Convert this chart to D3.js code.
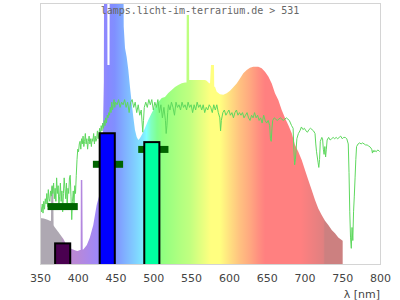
<!DOCTYPE html>
<html><head><meta charset="utf-8">
<script src="https://cdn.jsdelivr.net/npm/d3@7"></script>
<style>html,body{margin:0;padding:0;background:#fff;}svg{display:block;}</style>
</head><body>
<svg id="c" width="400" height="300"></svg>
<script>
const title = "lamps.licht-im-terrarium.de > 531";
const xTicks = [350,400,450,500,550,600,650,700,750,800];
const xLabel = "λ [nm]";

// lamp spectrum (relative, clipped at top)
const specNm = [350,355,360,363,364.5,365,367.5,368,369,374,381,385,392,398,400,402,403.8,404,406,406.5,407.3,412,416,420.5,425,428,430,433,434.5,435,438.7,439.3,442,442.6,459.9,460.8,462.5,464.7,466.9,469.1,471.4,473.5,475.7,478,480.1,482.4,484.6,486.7,489,493.3,497.8,502.2,506.6,511.1,515.4,519.8,524.3,528.7,533,537.5,541.9,543.9,544.2,547.2,547.5,548.5,555,561.8,568.4,570.6,572.8,575,576.3,580.3,580.6,581.6,583.9,588.2,592.6,597.1,601.5,605.8,610.3,614.7,619.1,623.6,627.9,632.3,638.9,643.4,647.8,652.2,656.7,661,665.4,669.9,674.3,678.6,683.1,687.5,691.9,696.4,700.7,705.1,709.6,714,718.3,722.8,727.2,731.6,736.1,740.4,744.8,750.6];
const specVal = [17.6,17.4,17.0,16.6,16.5,29.6,29.6,14.8,14.3,12.4,9.6,7.3,5.7,5.1,5.0,5.3,5.4,32.2,32.2,5.6,5.6,7.3,10.2,14.9,22.6,25.8,33,46,70,140,140,76.2,76.2,140,140,91,82.8,79.3,74.3,67.8,61.7,56.3,51.3,48.7,47.5,48.3,49.4,50.6,52.1,55.2,57.9,60.2,62.1,63.6,64.0,65.5,66.7,67.8,68.6,69.3,69.5,69.5,95.4,95.4,70.5,70.5,70.5,70.5,70.5,70.2,69.5,69.2,76.2,76.2,67.9,67.9,66.0,65.0,64.8,65.4,66.4,67.7,69.2,71.1,73.1,74.3,75.2,75.6,75.6,75.0,73.7,71.8,69.2,65.4,62.8,59.0,55.9,53.3,50.2,45.6,43.0,39.8,36.0,32.2,28.4,24.5,21.3,18.8,16.6,14.9,13.0,11.8,10.2,8.9];

// reference (sunlight) spectrum
const sunNm = [351,352,353,354,355,356,357,358,359,360,361,362,363,364,365,366,367,368,369,370,371,372,373,374,375,376,377,378,379,380,381,382,383,384,385,386,387,388,389,390,391,392,393,394,395,396,397,398,399,400,401,402,403,404,405,406,407,408,409,410,411,412,413,414,415,416,417,418,419,420,421,422,423,424,425,426,427,428,429,430,431,432,433,434,435,436,437,438,439,440,441,442,443,444,445,446,447,448,449,450,452,454,456,458,460,462,464,466,468,470,472,474,476,478,480,482,484,486,487,488,490,492,494,496,498,500,502,504,506,508,510,512,514,516,517,518,519,520,522,524,526,528,530,532,534,536,538,540,542,544,546,548,550,552,554,556,558,560,562,564,566,568,570,572,574,576,578,580,582,584,586,588,589,590,592,594,596,598,600,602,604,606,608,610,612,614,616,618,620,622,624,626,628,630,632,634,636,638,640,642,644,646,648,650,652,654,655,656,657,658,660,664,668,672,676,680,683,685,686,687,688,689,690,692,694,696,698,700,702,704,706,708,710,712,714,715,716,718,719,720,721,723,724,725,726,727,728,729,730,732,734,736,738,740,742,744,746,748,750,752,754,756,758,759,760,761,762,763,764,765,766,767,768,769,771,773,775,777,779,781,783,785,787,789,790,791,792,793,795,797,799,800];
const sunVal = [22,20,23,19.5,24,21,25,23,27,22,28.5,25,24,28,26,30,27,31,25,29,24,33,27,30,22,26,31,24,28,20,27,33,29,25,31,22,29,27,33,34,26,17,24,28,23,30,27,34,40,44,43,46,47,44,48,46,49,45,47,50,46,48,44,47,49,46,48,45,48,47,50,46,49,47,48,51,48,50,52,50,53,51,54,52,55,53,56,54,57,56,58,57,60,58,62,59,61,63,60,62,61,63,60,62,61,63,60,62,58,62,63,60,62,58,61,57,59,50.5,55,60,62,60,63,61,63,59,62,60,63,58,61,56,60,55,50,53,58,61,59,62,60,57,62,60,61,59,62,60,61,59,62,60,61,58,61,59,62,60,61,59,61,58,60,59,61,60,58,61,59,61,58,56,51,55,58,59,57,58,59,57,58,56,58,59,57,58,57,58,56,57,58,56,55,57,56,58,56,57,55,56,54,57,55,54,55,53,48,47,52,55,56,55,56,55,56,55,53,52,44,38,40,44,48,50,51,52.5,51.5,52,51,50.5,51.5,52,51.5,51,50,46,43,39,37,40,47,48.5,48,44,42,45,41,44,47.5,48.5,47.5,48,48.5,48,48.5,48,48.5,49,48,48.5,48.5,48,46,35,20,10,6,14,9,20,26,33,40,45,46,46.4,46,46.4,46,45.6,45.6,45.2,44.8,44,42.5,43.5,42.9,43.5,43,43.7,43.3,43];

// filter bars
const barLo = [370,429,488];
const barHi = [390,449,508];
const barVal = [7.9,50.1,46.7];
const barColors = ["#4a0050","#0000ff","#00ffa0"];

// marker levels
const markLo = [360,420,480];
const markHi = [400,460,520];
const markVal = [22.0,38.2,43.9];

// spectrum colour stops (nm, colour)
const gradNm = [350,377,383,400,425,440,449,462,476,486,491,497,505,512,535,548,562,576,588,601,615,628,639,648,695,725,727,800];
const gradCol = ["#aea8b2","#aea8b2","#c088d0","#b888d8","#a088f8","#8888ff","#8090ff","#80b0ff","#80d0ff","#80e8ff","#80ffff","#80ffc0","#80ff90","#90ff80","#b0ff80","#c0ff80","#e0ff80","#ffff80","#ffff80","#ffe080","#ffc080","#ffa880","#ff9080","#ff8080","#ff8080","#e08080","#cc8080","#cc8080"];

const svg = d3.select("#c");
const L = 40, R = 380, T = 3, B = 264;
const x = d3.scaleLinear().domain([350,800]).range([L,R]);
const y = d3.scaleLinear().domain([0,100]).range([B,T]);

const defs = svg.append("defs");
defs.append("clipPath").attr("id","clip").append("rect")
  .attr("x",L).attr("y",T).attr("width",R-L).attr("height",B-T);
const grad = defs.append("linearGradient").attr("id","spec")
  .attr("gradientUnits","userSpaceOnUse")
  .attr("x1",x(350)).attr("x2",x(800)).attr("y1",0).attr("y2",0);
gradNm.forEach((n,i)=>grad.append("stop")
  .attr("offset",(n-350)/450).attr("stop-color",gradCol[i]));

const g = svg.append("g").attr("clip-path","url(#clip)");

const spec = specNm.map((n,i)=>[n,specVal[i]]);
g.append("path").datum(spec)
  .attr("fill","url(#spec)")
  .attr("d",d3.area().x(d=>x(d[0])).y0(y(0)).y1(d=>y(d[1])));

const sun = sunNm.map((n,i)=>[n,sunVal[i]]);
g.append("path").datum(sun)
  .attr("fill","none").attr("stroke","#5ed85e").attr("stroke-width",1)
  .attr("d",d3.line().x(d=>x(d[0])).y(d=>y(d[1])));

g.selectAll("rect.mark").data(markLo).enter().append("rect")
  .attr("class","mark")
  .attr("x",(d)=>x(d)).attr("width",(d,i)=>x(markHi[i])-x(d))
  .attr("y",(d,i)=>y(markVal[i])-3.5).attr("height",7)
  .attr("fill","#006400");

g.selectAll("rect.bar").data(barLo).enter().append("rect")
  .attr("class","bar")
  .attr("x",d=>x(d)).attr("width",(d,i)=>x(barHi[i])-x(d))
  .attr("y",(d,i)=>y(barVal[i])).attr("height",(d,i)=>y(0)-y(barVal[i])+2)
  .attr("fill",(d,i)=>barColors[i]).attr("stroke","#000").attr("stroke-width",2);

svg.append("rect").attr("x",L+0.5).attr("y",T+0.5).attr("width",R-L).attr("height",B-T)
  .attr("fill","none").attr("stroke","#d4d4d4").attr("stroke-width",1);

const ax = svg.append("g").attr("transform",`translate(0,${B})`)
  .call(d3.axisBottom(x).tickValues(xTicks).tickSize(0).tickPadding(10).tickFormat(d3.format("d")));
ax.select(".domain").remove();
ax.selectAll("text").attr("font-family","DejaVu Sans").attr("font-size",11).attr("fill","#444");

svg.append("text").attr("x",R).attr("y",298).attr("text-anchor","end")
  .attr("font-family","DejaVu Sans").attr("font-size",11).attr("fill","#444").text(xLabel);

svg.append("text").attr("x",200).attr("y",14).attr("text-anchor","middle")
  .attr("font-family","DejaVu Sans Mono").attr("font-size",10).attr("fill","#666").text(title);
</script>
</body></html>
